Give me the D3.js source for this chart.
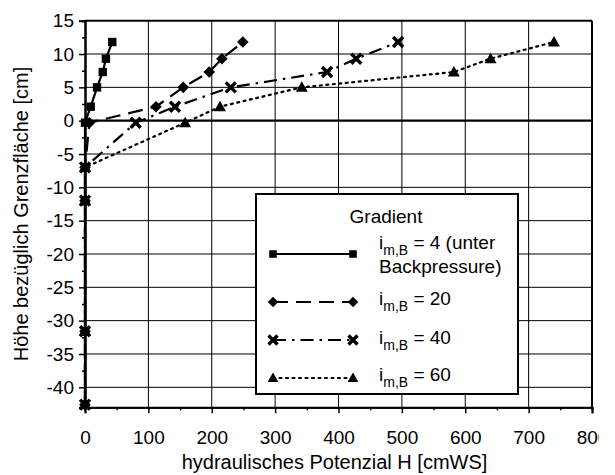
<!DOCTYPE html>
<html><head><meta charset="utf-8">
<script src="https://cdn.jsdelivr.net/npm/d3@7"></script>
<style>
body{margin:0;background:#fff}
text{font-family:Arial,"Liberation Sans",sans-serif;fill:#000}
</style>
</head><body>
<svg id="c" width="615" height="475"></svg>
<script>
// ---- data ----
const heights   = [-42.6, -31.6, -12, -7, -0.3, 2.1, 5, 7.3, 9.3, 11.8];
const potGrad4  = [0, 0, 0, 0, 0, 9, 19, 28, 33, 43];
const potGrad20 = [0, 0, 0, 0, 7, 112, 155, 196, 216, 249];
const potGrad40 = [0, 0, 0, 0, 80, 142, 230, 382, 428, 494];
const potGrad60 = [0, 0, 0, 0, 158, 213, 342, 582, 640, 740];
const gradients = ["4", "20", "40", "60"];
const xTicks = [0, 100, 200, 300, 400, 500, 600, 700, 800];
const xMinor = [50, 150, 250, 350, 450, 550, 650, 750];
const yTicks = [15, 10, 5, 0, -5, -10, -15, -20, -25, -30, -35, -40];
const yMinor = [12.5, 7.5, 2.5, -2.5, -7.5, -12.5, -17.5, -22.5, -27.5, -32.5, -37.5, -42.5];

const FONT = "Arial,'Liberation Sans',sans-serif";
const svg = d3.select("#c");
const L = 85, R = 592, T = 20.7, B = 407.3;
const x = d3.scaleLinear().domain([0, 800]).range([L, R]);
const y = d3.scaleLinear().domain([-43, 15]).range([B, T]);

// gridlines
const g = svg.append("g");
g.selectAll(".vg").data(xTicks.slice(1, -1)).enter().append("line")
  .attr("x1", d => x(d)).attr("x2", d => x(d)).attr("y1", T).attr("y2", B)
  .attr("stroke", "#000").attr("stroke-width", 1);
g.selectAll(".hg").data(yTicks.slice(1)).enter().append("line")
  .attr("x1", L).attr("x2", R).attr("y1", d => y(d)).attr("y2", d => y(d))
  .attr("stroke", "#000").attr("stroke-width", d => d === 0 ? 2.2 : 1);

// border top/right
svg.append("line").attr("x1", L).attr("x2", R).attr("y1", y(15)).attr("y2", y(15)).attr("stroke", "#000").attr("stroke-width", 2);
svg.append("line").attr("x1", R).attr("x2", R).attr("y1", T).attr("y2", B).attr("stroke", "#000").attr("stroke-width", 2);

// axes
const xAxis = svg.append("g").attr("transform", `translate(0,${B})`)
  .call(d3.axisBottom(x).tickValues(xTicks).tickSize(6).tickPadding(17).tickFormat(d => String(d)));
const xAxisMinor = svg.append("g").attr("transform", `translate(0,${B})`)
  .call(d3.axisBottom(x).tickValues(xMinor).tickSize(3).tickFormat(""));
const yAxis = svg.append("g").attr("transform", `translate(${L},0)`)
  .call(d3.axisLeft(y).tickValues(yTicks).tickSize(6).tickPadding(5).tickFormat(d => String(d)));
const yAxisMinor = svg.append("g").attr("transform", `translate(${L},0)`)
  .call(d3.axisLeft(y).tickValues(yMinor).tickSize(3).tickFormat(""));
[xAxis, xAxisMinor, yAxis, yAxisMinor].forEach(a => {
  a.select(".domain").attr("stroke", "#000").attr("stroke-width", 2);
  a.selectAll(".tick line").attr("stroke", "#000").attr("stroke-width", 1.5);
  a.selectAll("text").attr("font-size", 19).attr("font-family", FONT).attr("fill", "#000");
});
// clip x labels at right edge like the reference
svg.append("clipPath").attr("id", "xclip").append("rect").attr("x", 0).attr("y", 0).attr("width", 599).attr("height", 475);
xAxis.attr("clip-path", "url(#xclip)");

// titles
svg.append("text").attr("x", (L + R) / 2 - 4).attr("y", 469).attr("text-anchor", "middle")
  .attr("font-size", 20).text("hydraulisches Potenzial H [cmWS]");
svg.append("text").attr("transform", `translate(28,${(T + B) / 2}) rotate(-90)`).attr("text-anchor", "middle")
  .attr("font-size", 20).text("Höhe bezüglich Grenzfläche [cm]");

// markers
function marker(sel, type, cx, cy, s) {
  if (type === "square") {
    sel.append("rect").attr("x", cx - s * 0.42).attr("y", cy - s * 0.42).attr("width", s * 0.84).attr("height", s * 0.84).attr("fill", "#000");
  } else if (type === "diamond") {
    const r = s * 0.58;
    sel.append("path").attr("d", `M${cx},${cy - r}L${cx + r},${cy}L${cx},${cy + r}L${cx - r},${cy}Z`).attr("fill", "#000");
  } else if (type === "x") {
    const r = s * 0.5;
    sel.append("path").attr("d", `M${cx - r},${cy - r}L${cx + r},${cy + r}M${cx - r},${cy + r}L${cx + r},${cy - r}`)
      .attr("stroke", "#000").attr("stroke-width", 3.4).attr("fill", "none");
  } else if (type === "triangle") {
    const r = s * 0.6;
    sel.append("path").attr("d", `M${cx},${cy - r}L${cx + r},${cy + r * 0.75}L${cx - r},${cy + r * 0.75}Z`).attr("fill", "#000");
  }
}

const series = [
  { vals: potGrad60, dash: "2,4.5", cap: "round", mk: "triangle" },
  { vals: potGrad40, dash: "13,6,2.5,6", cap: "butt", mk: "x" },
  { vals: potGrad20, dash: "15,8", cap: "butt", mk: "diamond" },
  { vals: potGrad4, dash: null, cap: "butt", mk: "square" }
];
const line = d3.line().x(d => x(d[0])).y(d => y(d[1]));
series.forEach(s => {
  const pts = s.vals.map((v, i) => [v, heights[i]]);
  const p = svg.append("path").attr("d", line(pts)).attr("fill", "none").attr("stroke", "#000")
    .attr("stroke-width", 2.2).attr("stroke-linecap", s.cap);
  if (s.dash) p.attr("stroke-dasharray", s.dash);
  const mg = svg.append("g");
  pts.forEach(pt => marker(mg, s.mk, x(pt[0]), y(pt[1]), 10));
});

// legend
const lg = svg.append("g");
lg.append("rect").attr("x", 256).attr("y", 194).attr("width", 262).attr("height", 200)
  .attr("fill", "#fff").attr("stroke", "#000").attr("stroke-width", 2);
lg.append("text").attr("x", 386).attr("y", 223).attr("text-anchor", "middle").attr("font-size", 19).text("Gradient");
const legY = [254, 302, 340, 378];
const legText = [248.5, 305, 343.5, 381];
const legOrder = [3, 2, 1, 0];
legOrder.forEach((si, k) => {
  const s = series[si];
  const ly = legY[k];
  const ln = lg.append("line").attr("x1", 273).attr("x2", 353).attr("y1", ly).attr("y2", ly)
    .attr("stroke", "#000").attr("stroke-width", 2.2).attr("stroke-linecap", s.cap);
  if (s.dash) ln.attr("stroke-dasharray", s.dash);
  marker(lg, s.mk, 273, ly, 9);
  marker(lg, s.mk, 353, ly, 9);
  const t = lg.append("text").attr("x", 379).attr("y", legText[k]).attr("font-size", 19);
  t.append("tspan").text("i");
  t.append("tspan").attr("font-size", 14).attr("dy", 6).text("m,B");
  t.append("tspan").attr("dy", -6).text(" = " + gradients[k] + (k === 0 ? " (unter" : ""));
  if (k === 0) {
    lg.append("text").attr("x", 379).attr("y", 273).attr("font-size", 19).text("Backpressure)");
  }
});
</script>
</body></html>
